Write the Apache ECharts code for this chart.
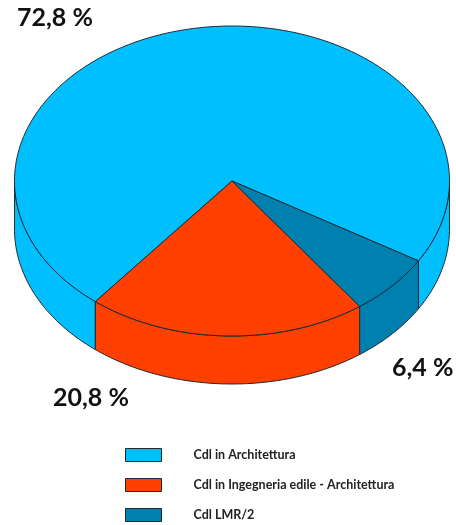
<!DOCTYPE html>
<html><head><meta charset="utf-8">
<style>html,body{margin:0;padding:0;background:#fff}#c{width:456px;height:525px}</style>
<script src="https://cdn.jsdelivr.net/npm/echarts@6/dist/echarts.min.js"></script>
</head><body><div id="c"></div>
<script>
const categories = ['Cdl in Architettura', 'Cdl in Ingegneria edile - Architettura', 'Cdl LMR/2'];
const values = [72.8, 20.8, 6.4];
const valueLabels = ['72,8 %', '20,8 %', '6,4 %'];
const colors = ['#00BFFF', '#FF4000', '#0080AE'];

const CX = 232, CY = 181, RX = 217.5, RY = 155, DEPTH = 48, START = 391;
const LINE = '#1c2a36', LW = 1;
const labelPos = [[17, 19], [53, 399], [392, 369]];

const total = values.reduce((a, b) => a + b, 0);
function pt(deg, dy) {
  const r = deg * Math.PI / 180;
  return [CX + RX * Math.cos(r), CY + RY * Math.sin(r) + (dy || 0)];
}
function arc(from, to, dy) {
  const n = Math.max(2, Math.ceil(Math.abs(to - from)));
  const out = [];
  for (let i = 0; i <= n; i++) out.push(pt(from + (to - from) * i / n, dy));
  return out;
}
function sideParts(hi, lo) {
  // visible wall: angles whose sine is positive (front of the disc)
  const parts = [];
  for (let k = -1; k <= 2; k++) {
    const a = Math.max(lo, k * 360), b = Math.min(hi, k * 360 + 180);
    if (b > a) parts.push([a, b]);
  }
  return parts;
}
function makeSeries(i) {
  const before = values.slice(0, i).reduce((a, b) => a + b, 0);
  return {
    type: 'custom',
    name: categories[i],
    coordinateSystem: 'none',
    silent: true,
    itemStyle: { color: colors[i] },
    data: [values[i]],
    renderItem: function (params, api) {
      const hi = START - before / total * 360;
      const lo = hi - api.value(0) / total * 360;
      const style = { fill: colors[i], stroke: LINE, lineWidth: LW, lineJoin: 'round' };
      const children = sideParts(hi, lo).map(p => ({
        type: 'polygon',
        shape: { points: arc(p[0], p[1], 0).concat(arc(p[1], p[0], DEPTH)) },
        style: style
      }));
      children.push({
        type: 'polygon',
        shape: { points: [[CX, CY]].concat(arc(lo, hi, 0)) },
        style: style
      });
      return { type: 'group', children: children };
    }
  };
}
const chart = echarts.init(document.getElementById('c'), null, { renderer: 'canvas' });
chart.setOption({
  animation: false,
  backgroundColor: '#fff',
  legend: {
    orient: 'vertical',
    left: 125,
    top: 448,
    padding: 0,
    height: 76,
    itemWidth: 36,
    itemHeight: 13,
    itemGap: 16,
    icon: 'rect',
    selectedMode: false,
    data: categories,
    itemStyle: { borderColor: LINE, borderWidth: 1 },
    textStyle: { fontFamily: 'Lato', fontWeight: 'bold', fontSize: 12.5, lineHeight: 13, color: '#222', padding: [0, 0, 0, 27] }
  },
  graphic: valueLabels.map((t, i) => ({
    type: 'text',
    left: labelPos[i][0],
    top: labelPos[i][1] - 14,
    style: { text: t, font: 'bold 25px Lato', fill: '#111' }
  })),
  series: values.map((v, i) => makeSeries(i))
});
</script></body></html>
